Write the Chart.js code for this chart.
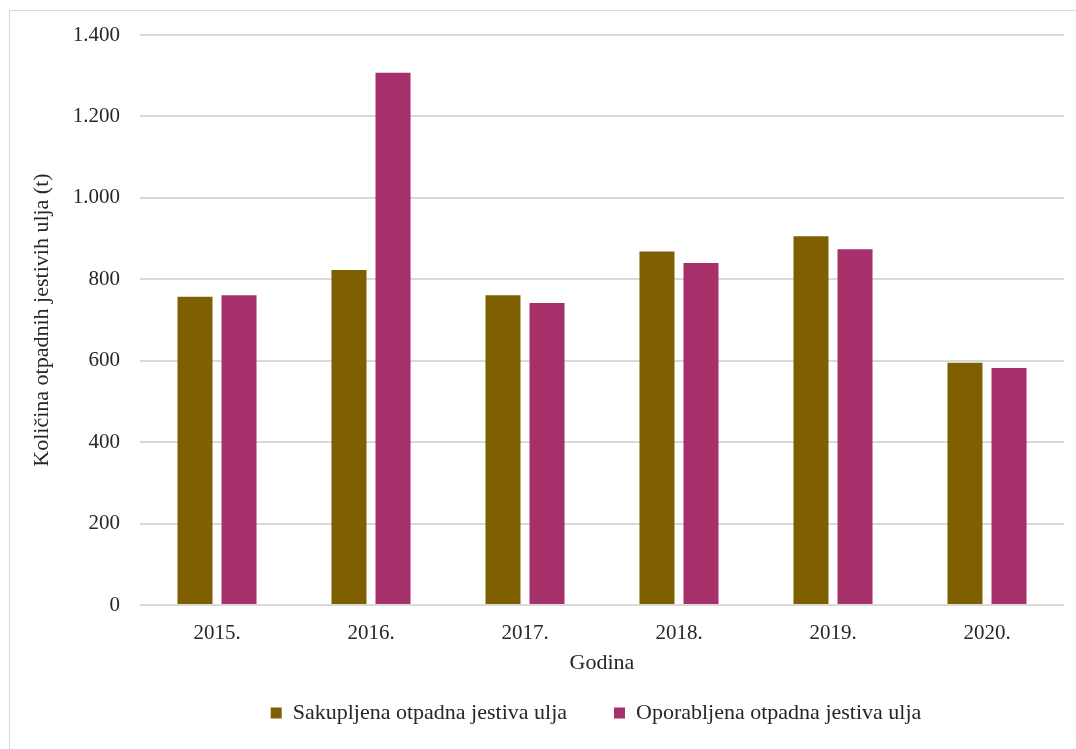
<!DOCTYPE html>
<html>
<head>
<meta charset="utf-8">
<script src="https://cdn.jsdelivr.net/npm/chart.js@4"></script>
<style>
  html, body { margin: 0; padding: 0; background: #fff; overflow: hidden; }
  #frame { position: absolute; left: 9px; top: 10px; width: 1200px; height: 900px; border: 1.5px solid #d9d9d9; }
  canvas { position: absolute; left: 0; top: 0; }
</style>
</head>
<body>
<div id="frame"></div>
<canvas id="oilChart" width="1076" height="749"></canvas>
<script>
// Data
const years = ['2015.', '2016.', '2017.', '2018.', '2019.', '2020.'];
const collected = [757, 823, 761, 868, 906, 595];
const recovered = [761, 1307, 742, 840, 874, 582];
const yTicks = [0, 200, 400, 600, 800, 1000, 1200, 1400];

const seriesNames = ['Sakupljena otpadna jestiva ulja', 'Oporabljena otpadna jestiva ulja'];
const seriesColors = ['#7f6000', '#a5306a'];

const serif = 'Liberation Serif, Times New Roman, serif';
const textColor = '#262626';

// 1400 -> 1.400
function formatThousands(v) {
  return String(v).replace(/\B(?=(\d{3})+(?!\d))/g, '.');
}

// legend in the original is centred a bit right of the canvas middle
const legendShift = {
  id: 'legendShift',
  beforeDraw(chart) {
    chart.legend.left = 128;
    chart.legend.right = 1064;
  }
};

const ctx = document.getElementById('oilChart').getContext('2d');

const oilChart = new Chart(ctx, {
  type: 'bar',
  data: {
    labels: years,
    datasets: [
      { label: seriesNames[0], data: collected, backgroundColor: seriesColors[0] },
      { label: seriesNames[1], data: recovered, backgroundColor: seriesColors[1] }
    ]
  },
  plugins: [legendShift],
  options: {
    responsive: false,
    devicePixelRatio: 1,
    animation: false,
    categoryPercentage: 0.572,
    barPercentage: 0.795,
    layout: { padding: { left: 0, right: 12, top: 35, bottom: 15 } },
    plugins: {
      tooltip: { enabled: false },
      legend: {
        position: 'bottom',
        labels: {
          boxWidth: 11,
          boxHeight: 11,
          padding: 47,
          color: textColor,
          font: { family: serif, size: 22 }
        }
      }
    },
    scales: {
      x: {
        afterFit: scale => { scale.height = 50; },
        grid: { display: false },
        border: { display: false },
        ticks: { color: textColor, padding: 8, font: { family: serif, size: 21 } },
        title: {
          display: true,
          text: 'Godina',
          color: textColor,
          padding: { top: 0, bottom: -21 },
          font: { family: serif, size: 22 }
        }
      },
      y: {
        min: 0,
        max: 1400,
        afterFit: scale => { scale.width = 140; },
        afterBuildTicks: scale => { scale.ticks = yTicks.map(v => ({ value: v })); },
        grid: { color: '#d9d9d9', lineWidth: 2, drawTicks: false },
        border: { display: false },
        ticks: {
          color: textColor,
          padding: 20,
          font: { family: serif, size: 21 },
          callback: v => formatThousands(v)
        },
        title: {
          display: true,
          text: 'Količina otpadnih jestivih ulja (t)',
          color: textColor,
          padding: { top: 29, bottom: 0 },
          font: { family: serif, size: 22 }
        }
      }
    }
  }
});
</script>
</body>
</html>
